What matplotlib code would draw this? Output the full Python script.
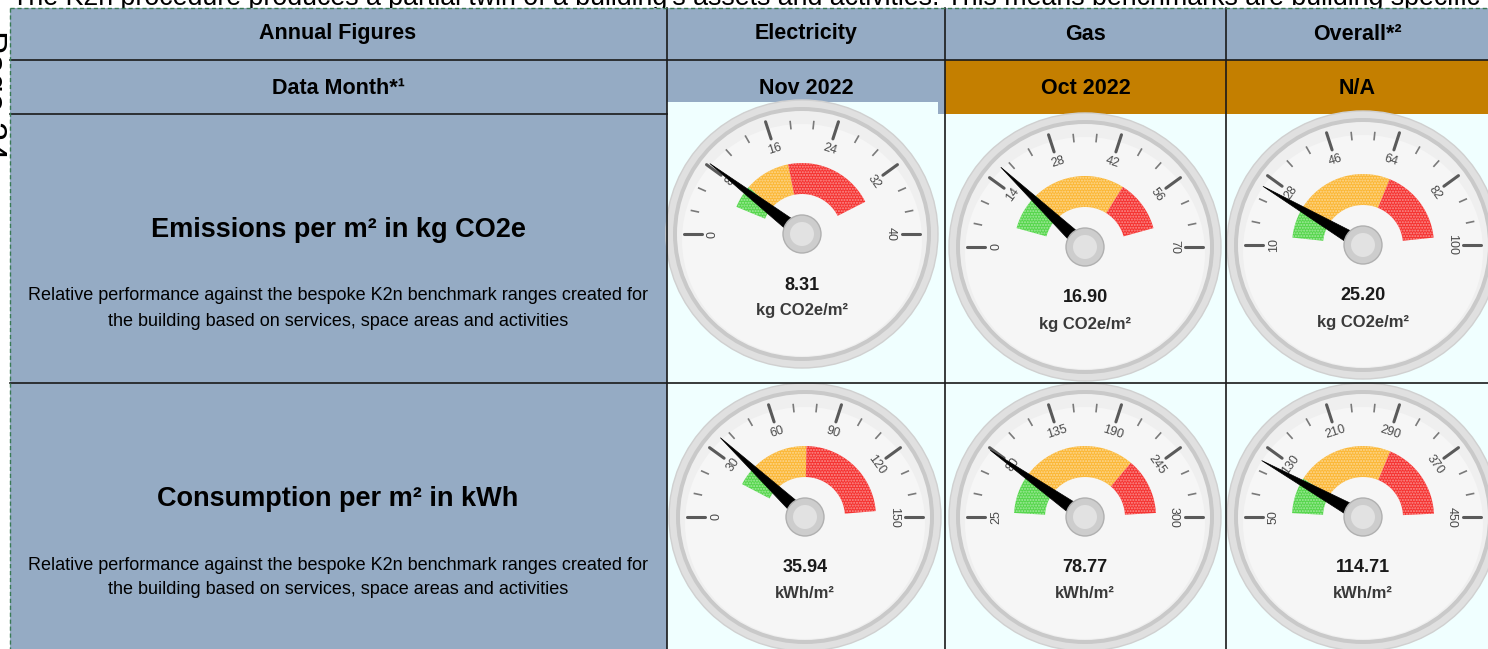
import numpy as np
import matplotlib
matplotlib.use("Agg")
import matplotlib.pyplot as plt
from matplotlib.patches import Rectangle, Ellipse, Polygon

plt.rcParams['font.family'] = ['Liberation Sans', 'DejaVu Sans']

# table texts
metrics = ["Emissions per m² in kg CO2e", "Consumption per m² in kWh"]
metric_note = ["Relative performance against the bespoke K2n benchmark ranges created for",
               "the building based on services, space areas and activities"]
fuels = ["Electricity", "Gas", "Overall*²"]
data_months = ["Nov 2022", "Oct 2022", "N/A"]
units = ["kg CO2e/m²", "kWh/m²"]

# gauge values (electricity, gas, overall)
emission_values = [8.31, 16.90, 25.20]
consumption_values = [35.94, 78.77, 114.71]
# gauge scale min / max
emission_ranges = [(0, 40), (0, 70), (10, 100)]
consumption_ranges = [(0, 150), (25, 300), (50, 450)]
# band limits: green start, orange start, red start, red end
emission_bands = [(5, 9.2, 17.5, 34), (6, 18, 47.5, 64), (13, 25, 66, 97)]
consumption_bands = [(23, 36, 76, 146), (30, 78, 224, 295), (57, 123, 300, 444)]

BLUE = '#95abc4'
ORANGE = '#c47f00'
CELL = '#f0ffff'
LINE = '#1a1a1a'

fig = plt.figure(figsize=(14.88, 6.49), dpi=100)
ax = fig.add_axes([0, 0, 1, 1])
ax.set_xlim(0, 1488)
ax.set_ylim(649, 0)
ax.axis('off')

# text above the table, cut off by the page
ax.text(12, 5, "The K2n procedure produces a partial twin of a building's assets and activities. "
        "This means benchmarks are building specific", fontsize=19.3, va='baseline', zorder=0)
ax.text(-9, 95, "Page 24", fontsize=25, rotation=-90, ha='center', va='center', zorder=0)

# cells
col_x = [10, 667, 945, 1226, 1488]
ax.add_patch(Rectangle((10, 8), 1478, 106, fc=BLUE, ec='none', zorder=1))
ax.add_patch(Rectangle((10, 114), 657, 535, fc=BLUE, ec='none', zorder=1))
ax.add_patch(Rectangle((667, 114), 821, 535, fc=CELL, ec='none', zorder=1))
for i in [1, 2]:
    ax.add_patch(Rectangle((col_x[i + 1], 60), col_x[i + 2] - col_x[i + 1], 54,
                           fc=ORANGE, ec='none', zorder=1))
ax.add_patch(Rectangle((667, 102), 271, 281, fc=CELL, ec='none', zorder=2))

# grid lines
for x in col_x[1:4]:
    ax.plot([x, x], [8, 649], color=LINE, lw=1.2, zorder=6)
ax.plot([10, 1488], [60, 60], color=LINE, lw=1.2, zorder=6)
ax.plot([10, 667], [114, 114], color=LINE, lw=1.2, zorder=6)
ax.plot([10, 1488], [383, 383], color=LINE, lw=1.2, zorder=6)
ax.plot([10, 10], [8, 649], color='#3a7a55', lw=1, ls=(0, (3, 2)), zorder=7)
ax.plot([10, 1488], [8, 8], color='#3a7a55', lw=1, ls=(0, (3, 2)), zorder=7)

# header texts
ax.text(338, 34, "Annual Figures", fontsize=15.5, fontweight='bold', ha='center', va='center', zorder=8)
ax.text(338, 88, "Data Month*¹", fontsize=15.5, fontweight='bold', ha='center', va='center', zorder=8)
for i in range(3):
    xc = (col_x[i + 1] + col_x[i + 2]) / 2
    ax.text(xc, 34, fuels[i], fontsize=15.5, fontweight='bold', ha='center', va='center', zorder=8)
    ax.text(xc, 88, data_months[i], fontsize=15.5, fontweight='bold', ha='center', va='center', zorder=8)

row_y = [230, 499]
for r in range(2):
    ax.text(338, row_y[r], metrics[r], fontsize=19.5, fontweight='bold', ha='center', va='center', zorder=8)
    ax.text(338, row_y[r] + 66, metric_note[0], fontsize=13, ha='center', va='center', zorder=8)
    ax.text(338, row_y[r] + 91, metric_note[1], fontsize=13, ha='center', va='center', zorder=8)


def gauge(cx, cy, value, lo, hi, bands, unit):
    def ang(v):
        return np.pi * (1 - (v - lo) / (hi - lo))

    def pt(r, a):
        return cx + r * np.cos(a), cy - r * np.sin(a)

    # bezel and face
    ax.add_patch(Ellipse((cx, cy), 272, 268, fc='#e0e0e0', ec='#d0d0d0', lw=1, zorder=3))
    ax.add_patch(Ellipse((cx, cy), 258, 254, fc='#c9c9c9', ec='none', zorder=3))
    ax.add_patch(Ellipse((cx, cy), 250, 246, fc='#efefef', ec='none', zorder=3))
    ax.add_patch(Ellipse((cx, cy + 6), 240, 232, fc='#f6f6f6', ec='none', zorder=3))

    # coloured bands
    colors = ['#55d64b', '#fbb735', '#f5312f']
    for k in range(3):
        a = np.linspace(ang(bands[k]), ang(bands[k + 1]), 40)
        outer = [pt(71, t) for t in a]
        inner = [pt(40, t) for t in a[::-1]]
        ax.add_patch(Polygon(outer + inner, closed=True, fc=colors[k],
                             ec=(1, 1, 1, 0.45), lw=0, hatch='......', zorder=4))

    # ticks and labels
    majors = np.linspace(lo, hi, 6)
    for v in majors:
        a = ang(v)
        (x0, y0), (x1, y1) = pt(100, a), pt(118, a)
        ax.plot([x0, x1], [y0, y1], color='#5a5a5a', lw=2.2, solid_capstyle='round', zorder=4)
        lx, ly = pt(89, a)
        ax.text(lx, ly, f"{v:.0f}", fontsize=9, color='#4a4a4a', ha='center', va='center',
                rotation=np.degrees(a) - 90, rotation_mode='anchor', zorder=5)
    for v in np.linspace(lo, hi, 16):
        if np.any(np.isclose(v, majors)):
            continue
        a = ang(v)
        (x0, y0), (x1, y1) = pt(106, a), pt(113, a)
        ax.plot([x0, x1], [y0, y1], color='#7a7a7a', lw=1.2, zorder=4)

    # needle and hub
    a = ang(value)
    tip = pt(116, a)
    px, py = -np.sin(a) * 7, -np.cos(a) * 7
    ax.add_patch(Polygon([tip, (cx + px, cy + py), (cx - px, cy - py)], closed=True,
                         fc='black', ec='black', lw=0.5, zorder=6))
    ax.add_patch(Ellipse((cx, cy), 38, 38, fc='#cdcdcd', ec='#b0b0b0', lw=1, zorder=6))
    ax.add_patch(Ellipse((cx, cy), 24, 24, fc='#e2e2e2', ec='none', zorder=6))

    ax.text(cx, cy + 51, f"{value:.2f}", fontsize=13, fontweight='bold', color='#1a1a1a',
            ha='center', va='center', zorder=6)
    ax.text(cx, cy + 77, unit, fontsize=12, fontweight='bold', color='#3a3a3a',
            ha='center', va='center', zorder=6)


top_centres = [(802, 234), (1085, 247), (1363, 245)]
bottom_centres = [(805, 517), (1085, 517), (1363, 517)]
for i in range(3):
    gauge(*top_centres[i], emission_values[i], *emission_ranges[i], emission_bands[i], units[0])
    gauge(*bottom_centres[i], consumption_values[i], *consumption_ranges[i], consumption_bands[i], units[1])

fig.savefig('out.png', dpi=100)
